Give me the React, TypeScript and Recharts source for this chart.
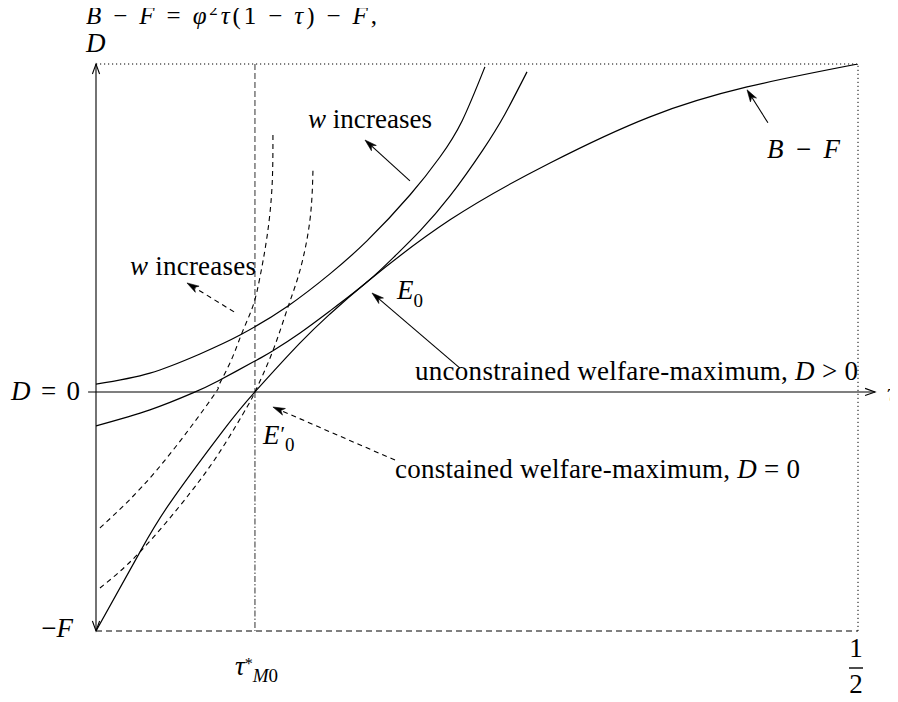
import React from "react";
import {
  ComposedChart,
  Line,
  XAxis,
  YAxis,
  ReferenceLine,
  ReferenceDot,
} from "recharts";

// horizontal: tax rate tau (0 .. 1/2); vertical: D in units of F (-F = -1)
const bfTau = [0, 0.0289, 0.0486, 0.0833, 0.1043, 0.1339, 0.1535, 0.1778, 0.2323, 0.2979, 0.3635, 0.4272, 0.5];
const bfValue = [-1, -0.669, -0.464, -0.163, 0, 0.205, 0.326, 0.46, 0.72, 0.958, 1.151, 1.276, 1.372];

// solid D-curves, higher w on top
const highWTau = [0, 0.0354, 0.0682, 0.0945, 0.126, 0.1535, 0.1778, 0.206, 0.2257, 0.2402, 0.2552];
const highWValue = [0.033, 0.079, 0.159, 0.238, 0.36, 0.494, 0.632, 0.824, 0.983, 1.134, 1.36];

const lowWTau = [0, 0.0354, 0.0636, 0.0801, 0.1056, 0.1161, 0.1339, 0.1535, 0.1778, 0.1962, 0.2126, 0.2323, 0.2539, 0.2684, 0.2828];
const lowWValue = [-0.142, -0.075, -0.004, 0.046, 0.134, 0.172, 0.247, 0.339, 0.46, 0.569, 0.674, 0.82, 1.013, 1.163, 1.339];

// dashed curves (constrained case)
const dashHighTau = [0.0026, 0.04, 0.0761, 0.0801, 0.0879, 0.0958, 0.103, 0.1076, 0.1122, 0.1155, 0.1161];
const dashHighValue = [-0.569, -0.326, -0.025, 0.021, 0.121, 0.247, 0.36, 0.481, 0.649, 0.858, 1.084];

const dashLowTau = [0.0026, 0.0289, 0.0617, 0.0833, 0.0991, 0.1043, 0.1155, 0.126, 0.1339, 0.1404, 0.1424];
const dashLowValue = [-0.82, -0.669, -0.423, -0.23, -0.063, 0, 0.163, 0.356, 0.51, 0.72, 0.937];

const tauTicks = [0.1043, 0.5];
const levelTicks = [-1, 0];
const levelTickLabels = ["−F", "D = 0"];

const TAU_MAX = 0.5;
const D_TOP = 1.372;
const TAU_STAR = tauTicks[0];

const FONT = "'Liberation Serif', 'Times New Roman', serif";
const FS = 27;
const SUB = 19;
const INK = "#000";

const toPoints = (taus: number[], values: number[]) =>
  taus.map((tau, i) => ({ tau, v: values[i] }));

const bfData = toPoints(bfTau, bfValue);
const highWData = toPoints(highWTau, highWValue);
const lowWData = toPoints(lowWTau, lowWValue);
const dashHighData = toPoints(dashHighTau, dashHighValue);
const dashLowData = toPoints(dashLowTau, dashLowValue);

// italic letters, upright digits and operators
const math = (s: string) =>
  s.split("").map((ch, i) =>
    /[A-Za-zτφ]/.test(ch) ? (
      <tspan key={i} fontStyle="italic">
        {ch}
      </tspan>
    ) : (
      <tspan key={i}>{ch}</tspan>
    )
  );

type ArrowOpts = { head: "filled" | "open"; dash?: string; both?: boolean };

const arrowShape = ({ head, dash, both }: ArrowOpts) => (p: any) => {
  const { x1, y1, x2, y2 } = p;
  const len = Math.hypot(x2 - x1, y2 - y1) || 1;
  const ux = (x2 - x1) / len;
  const uy = (y2 - y1) / len;

  const tip = (tx: number, ty: number, dx: number, dy: number, key: string) => {
    if (head === "filled") {
      const L = 12;
      const w = 3.6;
      const pts = [
        [tx, ty],
        [tx - L * dx - w * dy, ty - L * dy + w * dx],
        [tx - 0.72 * L * dx, ty - 0.72 * L * dy],
        [tx - L * dx + w * dy, ty - L * dy - w * dx],
      ];
      return <polygon key={key} points={pts.map((q) => q.join(",")).join(" ")} fill={INK} stroke={INK} strokeWidth={0.6} />;
    }
    const L = 10;
    const w = 3.6;
    const pts = [
      [tx - L * dx - w * dy, ty - L * dy + w * dx],
      [tx, ty],
      [tx - L * dx + w * dy, ty - L * dy - w * dx],
    ];
    return <polyline key={key} points={pts.map((q) => q.join(",")).join(" ")} fill="none" stroke={INK} strokeWidth={1.1} />;
  };

  const cut = head === "filled" ? 8 : 0;
  return (
    <g>
      <line
        x1={both ? x1 + ux * cut : x1}
        y1={both ? y1 + uy * cut : y1}
        x2={x2 - ux * cut}
        y2={y2 - uy * cut}
        stroke={INK}
        strokeWidth={1.1}
        strokeDasharray={dash}
      />
      {tip(x2, y2, ux, uy, "end")}
      {both ? tip(x1, y1, -ux, -uy, "start") : null}
    </g>
  );
};

const note = (tau: number, v: number, content: React.ReactNode, extra: Record<string, any> = {}) => (
  <ReferenceDot
    x={tau}
    y={v}
    r={0}
    ifOverflow="visible"
    shape={(p: any) => (
      <text x={p.cx} y={p.cy} fontFamily={FONT} fontSize={FS} fill={INK} {...extra}>
        {content}
      </text>
    )}
  />
);

const TauTick = (p: any) => {
  const { x, y, index } = p;
  if (index === 0) {
    return (
      <text x={x - 20} y={y + 44} fontFamily={FONT} fontSize={FS} fill={INK}>
        <tspan fontStyle="italic">τ</tspan>
        <tspan fontSize={16} dy={-6}>*</tspan>
        <tspan fontSize={SUB} dy={13} fontStyle="italic">M</tspan>
        <tspan fontSize={SUB}>0</tspan>
      </text>
    );
  }
  return (
    <g>
      <text x={x - 2} y={y + 26} textAnchor="middle" fontFamily={FONT} fontSize={FS} fill={INK}>
        1
      </text>
      <line x1={x - 9} x2={x + 5} y1={y + 37} y2={y + 37} stroke={INK} strokeWidth={1.4} />
      <text x={x - 2} y={y + 62} textAnchor="middle" fontFamily={FONT} fontSize={FS} fill={INK}>
        2
      </text>
    </g>
  );
};

const LevelTick = (p: any) => {
  const { x, y, index } = p;
  const label = levelTickLabels[index];
  if (index === 1) {
    return (
      <text x={x - 85} y={y + 8} fontFamily={FONT} fontSize={FS} fill={INK} textLength={69}>
        {math(label)}
      </text>
    );
  }
  return (
    <text x={x - 23} y={y + 6} textAnchor="end" fontFamily={FONT} fontSize={FS} fill={INK}>
      {math(label)}
    </text>
  );
};

export default function App() {
  return (
    <div style={{ margin: -8 }}>
      <ComposedChart
        width={898}
        height={702}
        margin={{ top: 64, right: 40, bottom: 41, left: 36 }}
      >
        <XAxis
          type="number"
          dataKey="tau"
          domain={[0, TAU_MAX]}
          allowDataOverflow
          ticks={tauTicks}
          interval={0}
          height={30}
          tickSize={0}
          tickMargin={0}
          tickLine={false}
          axisLine={{ stroke: INK, strokeWidth: 1.1, strokeDasharray: "6 4" }}
          tick={(p: any) => <TauTick {...p} />}
        />
        <YAxis
          type="number"
          domain={[-1, D_TOP]}
          allowDataOverflow
          ticks={levelTicks}
          interval={0}
          width={60}
          tickSize={0}
          tickMargin={0}
          tickLine={false}
          axisLine={false}
          tick={(p: any) => <LevelTick {...p} />}
        />

        {/* frame */}
        <ReferenceLine y={D_TOP} stroke={INK} strokeWidth={1} strokeDasharray="1.2 2.8" ifOverflow="visible" />
        <ReferenceLine x={TAU_MAX} stroke={INK} strokeWidth={1} strokeDasharray="1.2 2.8" ifOverflow="visible" />
        <ReferenceLine
          segment={[{ x: TAU_STAR, y: D_TOP }, { x: TAU_STAR, y: 0 }]}
          stroke="#444"
          strokeWidth={1.1}
          strokeDasharray="6 3"
          ifOverflow="visible"
        />
        <ReferenceLine
          segment={[{ x: TAU_STAR, y: 0 }, { x: TAU_STAR, y: -1 }]}
          stroke="#444"
          strokeWidth={1.1}
          strokeDasharray="6 2 1.5 2"
          ifOverflow="visible"
        />

        {/* axes */}
        <ReferenceLine
          segment={[{ x: 0, y: -1 }, { x: 0, y: D_TOP }]}
          ifOverflow="visible"
          shape={arrowShape({ head: "open", both: true })}
        />
        <ReferenceLine
          segment={[{ x: -0.0052, y: 0 }, { x: 0.5112, y: 0 }]}
          ifOverflow="visible"
          shape={arrowShape({ head: "open" })}
        />

        <Line data={bfData} dataKey="v" type="natural" dot={false} activeDot={false} stroke={INK} strokeWidth={1.2} isAnimationActive={false} />
        <Line data={highWData} dataKey="v" type="natural" dot={false} activeDot={false} stroke={INK} strokeWidth={1.2} isAnimationActive={false} />
        <Line data={lowWData} dataKey="v" type="natural" dot={false} activeDot={false} stroke={INK} strokeWidth={1.2} isAnimationActive={false} />
        <Line data={dashHighData} dataKey="v" type="natural" dot={false} activeDot={false} stroke={INK} strokeWidth={1.1} strokeDasharray="5 4" isAnimationActive={false} />
        <Line data={dashLowData} dataKey="v" type="natural" dot={false} activeDot={false} stroke={INK} strokeWidth={1.1} strokeDasharray="5 4" isAnimationActive={false} />

        {/* pointers */}
        <ReferenceLine segment={[{ x: 0.206, y: 0.883 }, { x: 0.1765, y: 1.054 }]} ifOverflow="visible" shape={arrowShape({ head: "filled" })} />
        <ReferenceLine segment={[{ x: 0.2388, y: 0.1 }, { x: 0.1811, y: 0.414 }]} ifOverflow="visible" shape={arrowShape({ head: "filled" })} />
        <ReferenceLine segment={[{ x: 0.4409, y: 1.126 }, { x: 0.4272, y: 1.264 }]} ifOverflow="visible" shape={arrowShape({ head: "filled" })} />
        <ReferenceLine segment={[{ x: 0.0906, y: 0.335 }, { x: 0.0597, y: 0.456 }]} ifOverflow="visible" shape={arrowShape({ head: "filled", dash: "5 4" })} />
        <ReferenceLine segment={[{ x: 0.1962, y: -0.285 }, { x: 0.1161, y: -0.063 }]} ifOverflow="visible" shape={arrowShape({ head: "filled", dash: "5 4" })} />

        {/* text */}
        {note(
          -0.0066,
          1.54,
          <>
            <tspan fontStyle="italic">B</tspan>
            {" − "}
            <tspan fontStyle="italic">F</tspan>
            {" = "}
            <tspan fontStyle="italic">φ</tspan>
            <tspan fontSize={17} dy={-9}>2</tspan>
            <tspan fontStyle="italic" dy={9}>τ</tspan>
            {"(1 − "}
            <tspan fontStyle="italic">τ</tspan>
            {") − "}
            <tspan fontStyle="italic">F</tspan>
            {","}
          </>,
          { textLength: 291, fontSize: 25 }
        )}
        {note(-0.0066, 1.423, <tspan fontStyle="italic">D</tspan>)}
        {note(
          0.1391,
          1.105,
          <>
            <tspan fontStyle="italic">w</tspan>
            {" increases"}
          </>,
          { textLength: 124 }
        )}
        {note(
          0.0223,
          0.49,
          <>
            <tspan fontStyle="italic">w</tspan>
            {" increases"}
          </>,
          { textLength: 126 }
        )}
        {note(0.4403, 0.979, math("B − F"), { textLength: 73 })}
        {note(
          0.1975,
          0.389,
          <>
            <tspan fontStyle="italic">E</tspan>
            <tspan fontSize={SUB} dy={8}>0</tspan>
          </>
        )}
        {note(
          0.2093,
          0.05,
          <>
            {"unconstrained welfare-maximum, "}
            {math("D > 0")}
          </>,
          { textLength: 443 }
        )}
        {note(
          0.1096,
          -0.217,
          <>
            <tspan fontStyle="italic">E</tspan>
            <tspan fontSize={21} dx={1} dy={-3}>′</tspan>
            <tspan fontSize={SUB} dy={10}>0</tspan>
          </>
        )}
        {note(
          0.1962,
          -0.36,
          <>
            {"constained welfare-maximum, "}
            {math("D = 0")}
          </>,
          { textLength: 405 }
        )}
        {note(0.519, -0.042, <tspan fontStyle="italic">τ</tspan>)}
      </ComposedChart>
    </div>
  );
}
